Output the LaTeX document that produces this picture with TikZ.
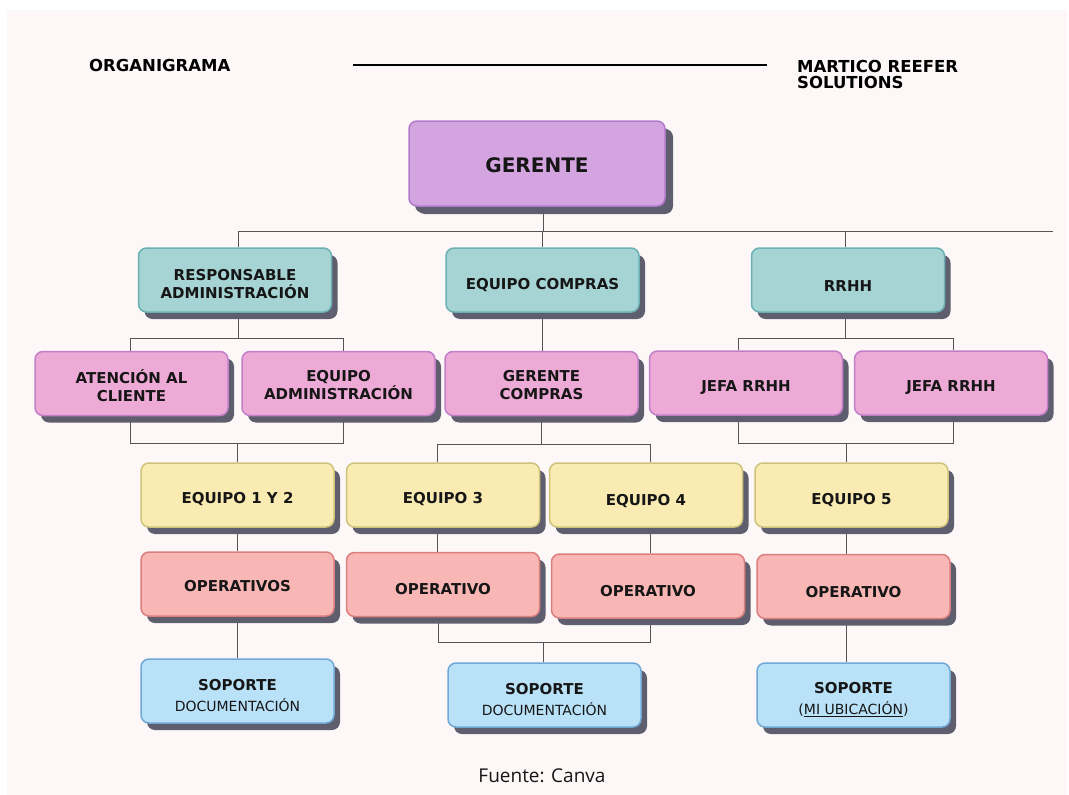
\documentclass[tikz,border=0pt]{standalone}
\usepackage{fontspec}
\setmainfont{DejaVu Sans}
\newfontfamily\osans{Open Sans}
\usetikzlibrary{shadows,calc}
\definecolor{bgc}{HTML}{FDF8F7}
\definecolor{shadowc}{HTML}{5F5E6E}
\definecolor{gerf}{HTML}{D3A4E0}\definecolor{gerb}{HTML}{B07ACB}
\definecolor{tealf}{HTML}{A6D3D3}\definecolor{tealb}{HTML}{6BB0B3}
\definecolor{pinkf}{HTML}{EEAAD6}\definecolor{pinkb}{HTML}{C07FC8}
\definecolor{yelf}{HTML}{FAEBB3}\definecolor{yelb}{HTML}{CFC37C}
\definecolor{salf}{HTML}{F8B7B4}\definecolor{salb}{HTML}{DA7F7E}
\definecolor{bluf}{HTML}{B9E2F8}\definecolor{blub}{HTML}{6FA8D6}
\definecolor{linec}{HTML}{555555}
\definecolor{txtc}{HTML}{161616}
\newcommand\subtxt{\mdseries\fontsize{14}{16}\selectfont}
\pgfdeclarelayer{bglayer}\pgfdeclarelayer{linelayer}
\pgfsetlayers{bglayer,linelayer,main}
\begin{document}
\begin{tikzpicture}[x=1pt,y=-1pt,
 box/.style={rounded corners=8pt, line width=1.5pt, minimum width=193pt, minimum height=64pt,
   inner sep=0pt,
   drop shadow={shadow xshift=6pt,shadow yshift=-7pt,fill=shadowc,opacity=1}},
 txt/.style={yshift=#1, inner sep=0pt, align=center, text=txtc, font=\bfseries\fontsize{15}{18}\selectfont},
 txt/.default=-5pt,
 gerbox/.style={box, fill=gerf, draw=gerb, minimum width=256pt, minimum height=85pt,
   drop shadow={shadow xshift=8pt,shadow yshift=-8pt,fill=shadowc,opacity=1}},
 gertxt/.style={txt=-1.5pt, font=\bfseries\fontsize{20}{24}\selectfont},
 tealbox/.style={box, fill=tealf, draw=tealb},
 pinkbox/.style={box, fill=pinkf, draw=pinkb},
 yelbox/.style={box, fill=yelf, draw=yelb},
 salbox/.style={box, fill=salf, draw=salb},
 blubox/.style={box, fill=bluf, draw=blub},
 conn/.style={draw=linec, line width=1pt},
 hdr/.style={font=\bfseries\fontsize{16.5}{16}\selectfont, anchor=base west, inner sep=0pt, text=black}
]
\useasboundingbox (0,0) rectangle (1069,795);
\begin{pgfonlayer}{bglayer}
\fill[white] (0,0) rectangle (1069,795);
\fill[bgc] (7,10) rectangle (1067,795);
\end{pgfonlayer}

% header
\node[hdr] (org) at (89,71) {ORGANIGRAMA};
\coordinate (hl1) at (353,65);
\coordinate (hl2) at (767,65);
\draw[line width=1.2pt, black] (hl1) -- (hl2);
\node[hdr] (mrs1) at (797,72) {MARTICO REEFER};
\node[hdr] (mrs2) at (797,88) {SOLUTIONS};

% boxes
\node[gerbox, label={[gertxt]center:GERENTE}] (ger) at (537,163.5) {};
\node[tealbox, label={[txt=-4pt]center:{RESPONSABLE\\ADMINISTRACIÓN}}] (resp) at (235,280) {};
\node[tealbox, label={[txt]center:EQUIPO COMPRAS}] (comp) at (542.5,280) {};
\node[tealbox, label={[txt=-6pt]center:RRHH}] (rrhh) at (848,280) {};
\node[pinkbox, label={[txt=-2.5pt]center:{ATENCIÓN AL\\CLIENTE}}] (aten) at (131.5,383.5) {};
\node[pinkbox, label={[txt=-2pt]center:{EQUIPO\\ADMINISTRACIÓN}}] (eadm) at (338.5,383.5) {};
\node[pinkbox, label={[txt=-2pt]center:{GERENTE\\COMPRAS}}] (gcomp) at (541.5,383.5) {};
\node[pinkbox, label={[txt]center:JEFA RRHH}] (jefa1) at (746,383) {};
\node[pinkbox, label={[txt]center:JEFA RRHH}] (jefa2) at (951,383) {};
\node[yelbox, label={[txt=-4pt]center:EQUIPO 1 Y 2}] (eq12) at (237.5,495) {};
\node[yelbox, label={[txt=-4pt]center:EQUIPO 3}] (eq3) at (443,495) {};
\node[yelbox, label={[txt=-6pt]center:EQUIPO 4}] (eq4) at (646,495) {};
\node[yelbox, label={[txt]center:EQUIPO 5}] (eq5) at (851.5,495) {};
\node[salbox, label={[txt=-2pt]center:OPERATIVOS}] (op1) at (237.5,584) {};
\node[salbox, label={[txt=-4.5pt]center:OPERATIVO}] (op3) at (443,584.5) {};
\node[salbox, label={[txt]center:OPERATIVO}] (op4) at (648,586) {};
\node[salbox, label={[txt=-5.5pt]center:OPERATIVO}] (op5) at (853.5,586.5) {};
\node[blubox, label={[txt]center:{SOPORTE\\[3pt]{\subtxt DOCUMENTACIÓN}}}] (sop1) at (237.5,691) {};
\node[blubox, label={[txt]center:{SOPORTE\\[3pt]{\subtxt DOCUMENTACIÓN}}}] (sop2) at (544.5,695) {};
\node[blubox, label={[txt]center:{SOPORTE\\[3pt]{\subtxt (\underline{MI UBICACIÓN})}}}] (sop3) at (853.5,695) {};

\node[font=\osans\fontsize{19}{20}\selectfont, anchor=base, inner sep=0pt, text=txtc] (src) at (542,782) {Fuente: Canva};

% tap points
\coordinate (gs) at ([xshift=6pt]ger.south);
\coordinate (rn) at ([xshift=3pt]resp.north);
\coordinate (rs) at ([xshift=3pt]resp.south);
\coordinate (rrn) at ([xshift=-3pt]rrhh.north);
\coordinate (rrs) at ([xshift=-3pt]rrhh.south);
\coordinate (an) at ([xshift=-1.5pt]aten.north);
\coordinate (as) at ([xshift=-1.5pt]aten.south);
\coordinate (en) at ([xshift=4.5pt]eadm.north);
\coordinate (es) at ([xshift=4.5pt]eadm.south);
\coordinate (j1n) at ([xshift=-8pt]jefa1.north);
\coordinate (j1s) at ([xshift=-8pt]jefa1.south);
\coordinate (j2n) at ([xshift=2pt]jefa2.north);
\coordinate (j2s) at ([xshift=2pt]jefa2.south);
\coordinate (e3n) at ([xshift=-5.5pt]eq3.north);
\coordinate (e3s) at ([xshift=-5.5pt]eq3.south);
\coordinate (e4n) at ([xshift=4pt]eq4.north);
\coordinate (e4s) at ([xshift=4pt]eq4.south);
\coordinate (e5n) at ([xshift=-5.5pt]eq5.north);
\coordinate (e5s) at ([xshift=-5.5pt]eq5.south);
\coordinate (o3s) at ([xshift=-5pt]op3.south);
\coordinate (o4s) at ([xshift=2pt]op4.south);
\coordinate (o5s) at ([xshift=-7.5pt]op5.south);
\coordinate (s2n) at ([xshift=-1pt]sop2.north);
\coordinate (busend) at (1053,231);
\coordinate (b1) at (0,338);
\coordinate (b2) at (0,443);
\coordinate (b2b) at (0,444);
\coordinate (b3) at (0,642);

\begin{pgfonlayer}{linelayer}
\draw[conn] (gs) -- (gs |- busend);
\draw[conn] (rn) |- (busend);
\draw[conn] (comp.north) -- (comp.north |- busend);
\draw[conn] (rrn) -- (rrn |- busend);
% admin
\draw[conn] (rs) -- (rs |- b1);
\draw[conn] (an) |- (en |- b1) -- (en);
\draw[conn] (as) |- (es |- b2) -- (es);
\draw[conn] (eq12.north) -- (eq12.north |- b2);
% compras
\draw[conn] (comp.south) -- (comp.south |- gcomp.north);
\draw[conn] (gcomp.south) -- (gcomp.south |- b2b);
\draw[conn] (e3n) |- (e4n |- b2b) -- (e4n);
% rrhh
\draw[conn] (rrs) -- (rrs |- b1);
\draw[conn] (j1n) |- (j2n |- b1) -- (j2n);
\draw[conn] (j1s) |- (j2s |- b2) -- (j2s);
\draw[conn] (e5n) -- (e5n |- b2);
% equipos -> operativos
\draw[conn] (eq12.south) -- (eq12.south |- op1.north);
\draw[conn] (e3s) -- (e3s |- op3.north);
\draw[conn] (e4s) -- (e4s |- op4.north);
\draw[conn] (e5s) -- (e5s |- op5.north);
% operativos -> soporte
\draw[conn] (op1.south) -- (op1.south |- sop1.north);
\draw[conn] (o3s) |- (o4s |- b3) -- (o4s);
\draw[conn] (s2n) -- (s2n |- b3);
\draw[conn] (o5s) -- (o5s |- sop3.north);
\end{pgfonlayer}
\end{tikzpicture}
\end{document}
